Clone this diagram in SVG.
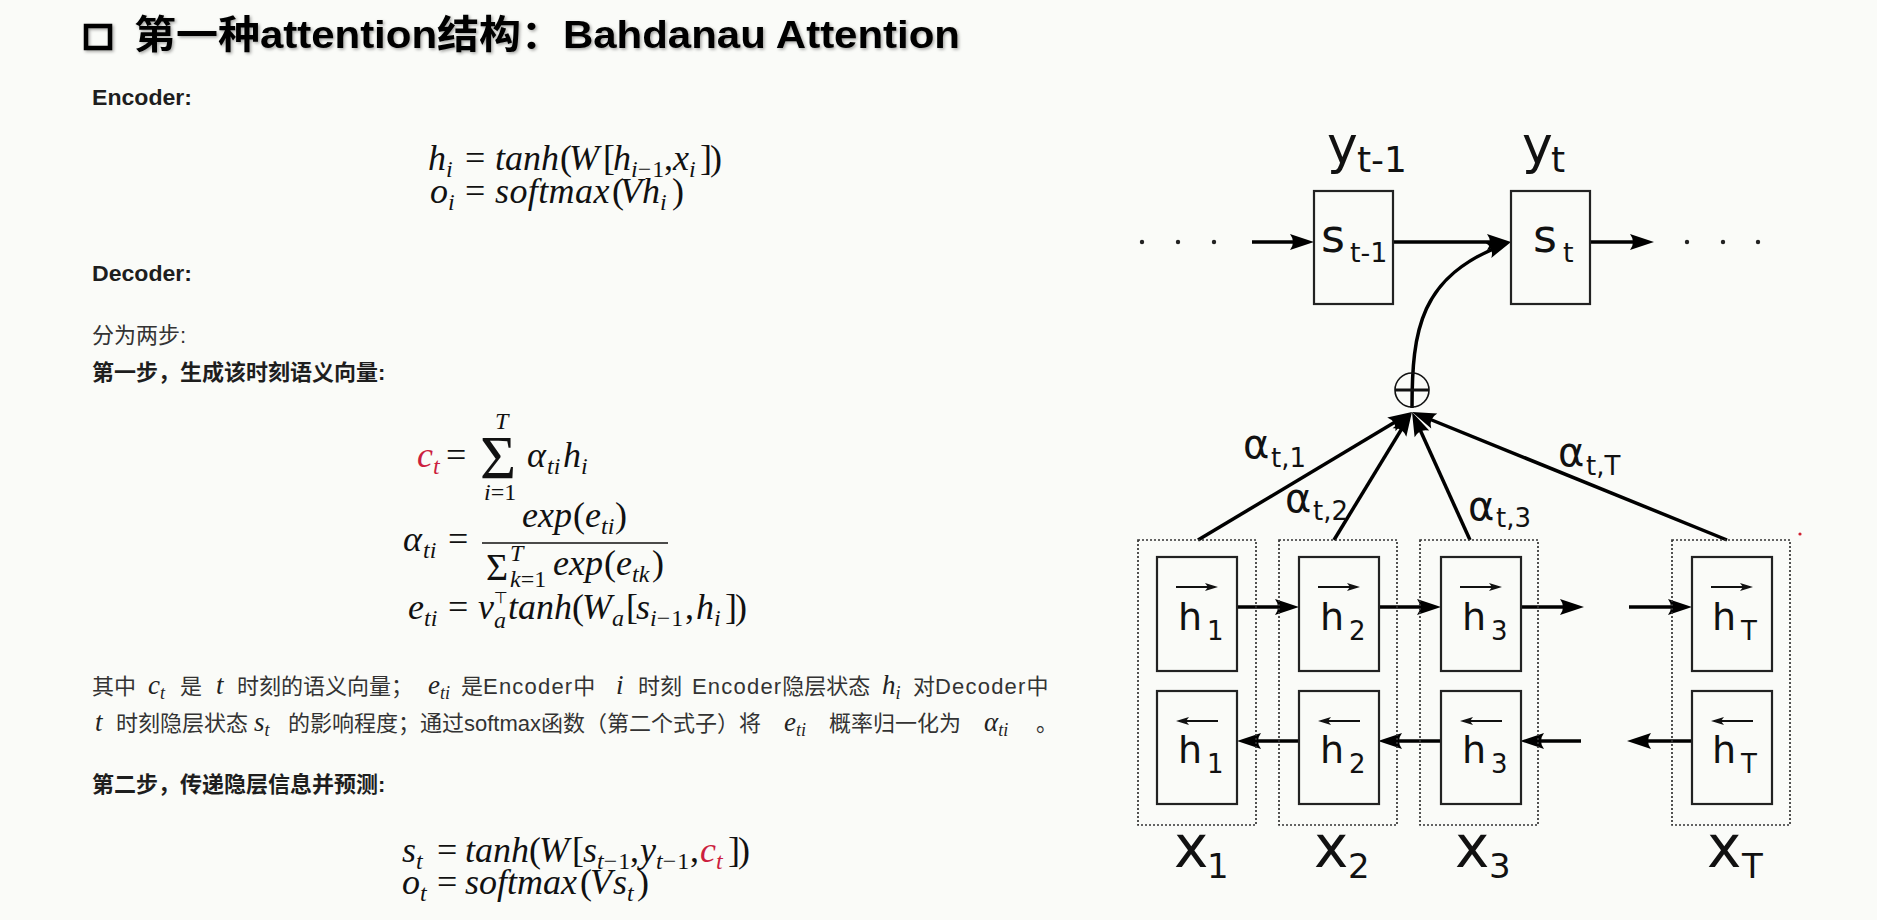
<svg xmlns="http://www.w3.org/2000/svg" width="1877" height="920" viewBox="0 0 1877 920">
<defs>
<style>
.ttl{font-family:"Liberation Sans","Noto Sans CJK SC",sans-serif;font-weight:bold;font-size:39px;fill:#000}
.hd{font-family:"Liberation Sans","Noto Sans CJK SC",sans-serif;font-weight:bold;font-size:22px;fill:#1e1e1e}
.tx{font-family:"Liberation Sans","Noto Sans CJK SC",sans-serif;font-size:22px;fill:#333}
.ls{letter-spacing:1.2px}
.m{font-family:"Liberation Serif",serif;font-style:italic;font-size:36px;fill:#111}
.mu{font-style:normal}
.ms{font-size:24px}
.red{fill:#cc1f40}
.im{font-family:"Liberation Serif",serif;font-style:italic;font-size:27px;fill:#222}
.is{font-size:18px}
.d{font-family:"DejaVu Sans",sans-serif;fill:#111}
.box{fill:none;stroke:#222;stroke-width:2.2}
.dot{fill:none;stroke:#333;stroke-width:1.7;stroke-dasharray:2 2}
.ar{fill:none;stroke:#000;stroke-width:3.5;marker-end:url(#ah)}
.sa{fill:none;stroke:#111;stroke-width:2;marker-end:url(#sh)}
</style>
<marker id="ah" markerUnits="userSpaceOnUse" markerWidth="34" markerHeight="20" viewBox="-24 -10 34 20" refX="0" refY="0" orient="auto">
<path d="M8,0 L-16,-8 Q-10,0 -16,8 Z" fill="#000"/>
</marker>
<marker id="sh" markerUnits="userSpaceOnUse" markerWidth="16" markerHeight="10" viewBox="-12 -5 16 10" refX="0" refY="0" orient="auto">
<path d="M3,0 L-10,-4 L-7,0 L-10,4 Z" fill="#111"/>
</marker>
<filter id="shd" x="-5%" y="-30%" width="110%" height="160%">
<feDropShadow dx="1.5" dy="1.5" stdDeviation="1.5" flood-color="#000" flood-opacity="0.35"/>
</filter>
</defs>
<rect x="0" y="0" width="1877" height="920" fill="#fafbf8"/>

<g id="title" filter="url(#shd)">
<rect x="86" y="26" width="24" height="22" fill="none" stroke="#000" stroke-width="4.5"/>
<text class="ttl" x="134" y="48" textLength="826" lengthAdjust="spacingAndGlyphs">第一种attention结构：Bahdanau Attention</text>
</g>

<g id="encoder-text">
<text class="hd" x="92" y="105" textLength="100" lengthAdjust="spacingAndGlyphs">Encoder:</text>
<text class="m">
<tspan x="428" y="170">h</tspan><tspan class="ms" x="446" y="177">i</tspan>
<tspan class="mu" x="465" y="170">=</tspan>
<tspan x="495" y="170">tanh</tspan>
<tspan class="mu" x="560" y="170">(</tspan>
<tspan x="569" y="170">W</tspan>
<tspan class="mu" x="603" y="170">[</tspan>
<tspan x="613" y="170">h</tspan><tspan class="ms" x="631" y="177">i</tspan><tspan class="ms mu" y="177" letter-spacing="1">−1</tspan>
<tspan class="mu" x="664" y="170">,</tspan>
<tspan x="673" y="170">x</tspan><tspan class="ms" x="689" y="177">i</tspan>
<tspan class="mu" x="700" y="170">]</tspan>
<tspan class="mu" x="710" y="170">)</tspan>
</text>
<text class="m">
<tspan x="430" y="203">o</tspan><tspan class="ms" x="448" y="210">i</tspan>
<tspan class="mu" x="465" y="203">=</tspan>
<tspan x="495" y="203" letter-spacing="0.4">softmax</tspan>
<tspan class="mu" x="612" y="203">(</tspan>
<tspan x="620" y="203">V</tspan>
<tspan x="642" y="203">h</tspan><tspan class="ms" x="660" y="210">i</tspan>
<tspan class="mu" x="672" y="203">)</tspan>
</text>
</g>

<g id="decoder-text">
<text class="hd" x="92" y="281" textLength="100" lengthAdjust="spacingAndGlyphs">Decoder:</text>
<text class="tx" x="92" y="343">分为两步:</text>
<text class="hd" x="92" y="380">第一步，生成该时刻语义向量:</text>
<text class="m">
<tspan class="red" x="417" y="467">c</tspan><tspan class="ms red" x="433" y="474">t</tspan>
<tspan class="mu" x="446" y="467">=</tspan>
<tspan class="mu" x="480" y="478" font-size="62">Σ</tspan>
<tspan class="ms" x="495" y="429">T</tspan>
<tspan class="ms" x="484" y="500">i</tspan><tspan class="ms mu" y="500">=1</tspan>
<tspan x="527" y="467">α</tspan><tspan class="ms" x="547" y="474">ti</tspan>
<tspan x="563" y="467">h</tspan><tspan class="ms" x="581" y="474">i</tspan>
</text>
<text class="m">
<tspan x="403" y="551">α</tspan><tspan class="ms" x="423" y="558">ti</tspan>
<tspan class="mu" x="448" y="551">=</tspan>
<tspan x="522" y="527">exp</tspan>
<tspan class="mu" x="573" y="527">(</tspan>
<tspan x="585" y="527">e</tspan><tspan class="ms" x="601" y="534">ti</tspan>
<tspan class="mu" x="615" y="527">)</tspan>
<tspan class="mu" x="486" y="580" font-size="38">Σ</tspan>
<tspan class="ms" x="510" y="561">T</tspan>
<tspan class="ms" x="510" y="587">k</tspan><tspan class="ms mu" y="587">=1</tspan>
<tspan x="553" y="575">exp</tspan>
<tspan class="mu" x="604" y="575">(</tspan>
<tspan x="616" y="575">e</tspan><tspan class="ms" x="632" y="582">tk</tspan>
<tspan class="mu" x="652" y="575">)</tspan>
</text>
<line x1="482" y1="543" x2="668" y2="543" stroke="#111" stroke-width="1.6"/>
<text class="m">
<tspan x="408" y="619">e</tspan><tspan class="ms" x="424" y="626">ti</tspan>
<tspan class="mu" x="448" y="619">=</tspan>
<tspan x="478" y="619">v</tspan>
<tspan class="mu" x="494" y="603" font-size="16" font-family="DejaVu Sans">⊤</tspan>
<tspan class="ms" x="494" y="628">a</tspan>
<tspan x="508" y="619">tanh</tspan>
<tspan class="mu" x="572" y="619">(</tspan>
<tspan x="582" y="619">W</tspan><tspan class="ms" x="612" y="626">a</tspan>
<tspan class="mu" x="626" y="619">[</tspan>
<tspan x="636" y="619">s</tspan><tspan class="ms" x="650" y="626">i</tspan><tspan class="ms mu" y="626" letter-spacing="1">−1</tspan>
<tspan class="mu" x="685" y="619">,</tspan>
<tspan x="696" y="619">h</tspan><tspan class="ms" x="714" y="626">i</tspan>
<tspan class="mu" x="725" y="619">]</tspan>
<tspan class="mu" x="735" y="619">)</tspan>
</text>
</g>

<g id="explanation">
<text class="tx" x="92" y="694">其中</text>
<text class="im red" x="148" y="694">c<tspan class="is" y="699">t</tspan></text>
<text class="tx" x="180" y="694">是</text>
<text class="im" x="216" y="694">t</text>
<text class="tx" x="237" y="694">时刻的语义向量；</text>
<text class="im" x="428" y="694">e<tspan class="is" y="699">ti</tspan></text>
<text class="tx" x="461" y="694">是<tspan class="ls">Encoder</tspan>中</text>
<text class="im" x="616" y="694">i</text>
<text class="tx" x="638" y="694">时刻</text>
<text class="tx" x="692" y="694"><tspan class="ls">Encoder</tspan>隐层状态</text>
<text class="im" x="882" y="694">h<tspan class="is" y="699">i</tspan></text>
<text class="tx" x="913" y="694">对<tspan class="ls">Decoder</tspan>中</text>

<text class="im" x="95" y="731">t</text>
<text class="tx" x="116" y="731">时刻隐层状态</text>
<text class="im" x="254" y="731">s<tspan class="is" y="736">t</tspan></text>
<text class="tx" x="288" y="731">的影响程度；通过softmax函数（第二个式子）将</text>
<text class="im" x="784" y="731">e<tspan class="is" y="736">ti</tspan></text>
<text class="tx" x="829" y="731">概率归一化为</text>
<text class="im" x="984" y="731">α<tspan class="is" y="736">ti</tspan></text>
<text class="tx" x="1036" y="731">。</text>

<text class="hd" x="92" y="792">第二步，传递隐层信息并预测:</text>
<text class="m">
<tspan x="402" y="862">s</tspan><tspan class="ms" x="416" y="869">t</tspan>
<tspan class="mu" x="437" y="862">=</tspan>
<tspan x="465" y="862">tanh</tspan>
<tspan class="mu" x="529" y="862">(</tspan>
<tspan x="539" y="862">W</tspan>
<tspan class="mu" x="572" y="862">[</tspan>
<tspan x="583" y="862">s</tspan><tspan class="ms" x="597" y="869">t</tspan><tspan class="ms mu" y="869" letter-spacing="1">−1</tspan>
<tspan class="mu" x="630" y="862">,</tspan>
<tspan x="640" y="862">y</tspan><tspan class="ms" x="656" y="869">t</tspan><tspan class="ms mu" y="869" letter-spacing="1">−1</tspan>
<tspan class="mu" x="690" y="862">,</tspan>
<tspan class="red" x="700" y="862">c</tspan><tspan class="ms red" x="716" y="869">t</tspan>
<tspan class="mu" x="728" y="862">]</tspan>
<tspan class="mu" x="738" y="862">)</tspan>
</text>
<text class="m">
<tspan x="402" y="894">o</tspan><tspan class="ms" x="420" y="901">t</tspan>
<tspan class="mu" x="437" y="894">=</tspan>
<tspan x="465" y="894">softmax</tspan>
<tspan class="mu" x="580" y="894">(</tspan>
<tspan x="590" y="894">V</tspan>
<tspan x="613" y="894">s</tspan><tspan class="ms" x="627" y="901">t</tspan>
<tspan class="mu" x="637" y="894">)</tspan>
</text>
</g>

<g id="connectors">
<path class="ar" d="M1252,242 H1306"/>
<path class="ar" d="M1393,242 H1503"/>
<path class="ar" d="M1590,242 H1646"/>
<path class="ar" d="M1412,408 C1412,330 1420,276 1503.5,244.8"/>
<path class="ar" d="M1198,540 L1405.1,416.1"/>
<path class="ar" d="M1334,540 L1407.8,418.8"/>
<path class="ar" d="M1470,540 L1415.3,419.3"/>
<path class="ar" d="M1727,540 L1419.4,415"/>
<path class="ar" d="M1237,607 H1291"/>
<path class="ar" d="M1378,607 H1433"/>
<path class="ar" d="M1520,607 H1576"/>
<path class="ar" d="M1629,607 H1684"/>
<path class="ar" d="M1299,741 H1245"/>
<path class="ar" d="M1441,741 H1386"/>
<path class="ar" d="M1581,741 H1528"/>
<path class="ar" d="M1692,741 H1635"/>
</g>

<g id="dots-left" fill="#222">
<circle cx="1142" cy="242" r="2.2"/><circle cx="1178" cy="242" r="2.2"/><circle cx="1214" cy="242" r="2.2"/>
</g>
<g id="dots-right" fill="#222">
<circle cx="1687" cy="242" r="2.2"/><circle cx="1723" cy="242" r="2.2"/><circle cx="1758" cy="242" r="2.2"/>
</g>

<g id="s-prev">
<rect class="box" x="1314" y="191" width="79" height="113"/>
<text class="d" x="1321" y="252" font-size="46">s</text>
<text class="d" x="1350" y="262" font-size="27">t-1</text>
<text class="d" x="1327" y="163" font-size="52">y</text>
<text class="d" x="1357" y="172" font-size="36">t-1</text>
</g>
<g id="s-t">
<rect class="box" x="1511" y="191" width="79" height="113"/>
<text class="d" x="1533" y="252" font-size="46">s</text>
<text class="d" x="1563" y="262" font-size="27">t</text>
<text class="d" x="1522" y="163" font-size="52">y</text>
<text class="d" x="1551" y="172" font-size="36">t</text>
</g>

<g id="sum-node">
<circle cx="1412" cy="390" r="17" fill="none" stroke="#111" stroke-width="1.6"/>
<line x1="1395" y1="390" x2="1429" y2="390" stroke="#111" stroke-width="3"/>
</g>

<g id="weights" class="d">
<text x="1243" y="458" font-size="40">α</text><text x="1271" y="467" font-size="26">t,1</text>
<text x="1285" y="512" font-size="40">α</text><text x="1313" y="520" font-size="26">t,2</text>
<text x="1468" y="520" font-size="40">α</text><text x="1496" y="527" font-size="26">t,3</text>
<text x="1558" y="466" font-size="40">α</text><text x="1586" y="475" font-size="26">t,T</text>
</g>

<g id="col-1">
<rect class="dot" x="1138" y="540" width="118" height="285"/>
<rect class="box" x="1157" y="557" width="80" height="114"/>
<rect class="box" x="1157" y="691" width="80" height="113"/>
<path class="sa" d="M1176,587 H1215"/>
<text class="d" x="1178" y="630" font-size="38">h</text><text class="d" x="1207" y="640" font-size="26">1</text>
<path class="sa" d="M1218,721 H1179"/>
<text class="d" x="1178" y="763" font-size="38">h</text><text class="d" x="1207" y="773" font-size="26">1</text>
<text class="d" x="1174" y="867" font-size="58">x</text><text class="d" x="1207" y="878" font-size="34">1</text>
</g>
<g id="col-2">
<rect class="dot" x="1279" y="540" width="118" height="285"/>
<rect class="box" x="1299" y="557" width="80" height="114"/>
<rect class="box" x="1299" y="691" width="80" height="113"/>
<path class="sa" d="M1318,587 H1357"/>
<text class="d" x="1320" y="630" font-size="38">h</text><text class="d" x="1349" y="640" font-size="26">2</text>
<path class="sa" d="M1360,721 H1321"/>
<text class="d" x="1320" y="763" font-size="38">h</text><text class="d" x="1349" y="773" font-size="26">2</text>
<text class="d" x="1314" y="867" font-size="58">x</text><text class="d" x="1348" y="878" font-size="34">2</text>
</g>
<g id="col-3">
<rect class="dot" x="1420" y="540" width="118" height="285"/>
<rect class="box" x="1441" y="557" width="80" height="114"/>
<rect class="box" x="1441" y="691" width="80" height="113"/>
<path class="sa" d="M1460,587 H1499"/>
<text class="d" x="1462" y="630" font-size="38">h</text><text class="d" x="1491" y="640" font-size="26">3</text>
<path class="sa" d="M1502,721 H1463"/>
<text class="d" x="1462" y="763" font-size="38">h</text><text class="d" x="1491" y="773" font-size="26">3</text>
<text class="d" x="1455" y="867" font-size="58">x</text><text class="d" x="1489" y="878" font-size="34">3</text>
</g>
<g id="col-T">
<rect class="dot" x="1672" y="540" width="118" height="285"/>
<rect class="box" x="1692" y="557" width="80" height="114"/>
<rect class="box" x="1692" y="691" width="80" height="113"/>
<path class="sa" d="M1711,587 H1750"/>
<text class="d" x="1712" y="630" font-size="38">h</text><text class="d" x="1741" y="640" font-size="26">T</text>
<path class="sa" d="M1753,721 H1714"/>
<text class="d" x="1712" y="763" font-size="38">h</text><text class="d" x="1741" y="773" font-size="26">T</text>
<text class="d" x="1707" y="867" font-size="58">x</text><text class="d" x="1742" y="878" font-size="34">T</text>
</g>
<circle cx="1800" cy="534" r="1.6" fill="#d02030"/>
</svg>
